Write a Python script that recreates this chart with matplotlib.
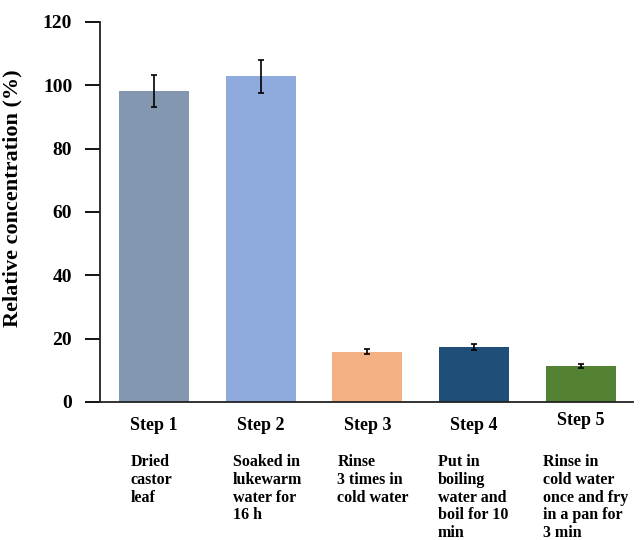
import numpy as np
import matplotlib.pyplot as plt
import matplotlib.transforms as mtransforms

plt.rcParams['font.family'] = ['Liberation Serif', 'DejaVu Serif']
plt.rcParams['font.weight'] = 'bold'

steps = ["Step 1", "Step 2", "Step 3", "Step 4", "Step 5"]
desc = ["Dried\ncastor\nleaf",
        "Soaked in\nlukewarm\nwater for\n16 h",
        "Rinse\n3 times in\ncold water",
        "Put in\nboiling\nwater and\nboil for 10\nmin",
        "Rinse in\ncold water\nonce and fry\nin a pan for\n3 min"]
values = [98.2, 102.9, 15.8, 17.4, 11.4]
errors = [5.0, 5.2, 0.8, 0.9, 0.6]
colors = ["#8497B0", "#8FAADC", "#F4B183", "#1F4E79", "#548235"]

# layout of the text under the bars
desc_dx = [-0.215, -0.26, -0.28, -0.34, -0.355]
step_y = [-0.063, -0.063, -0.063, -0.063, -0.05]

fig = plt.figure(figsize=(6.41, 5.40), dpi=100)
ax = fig.add_axes([0.156, 0.2556, 0.8315, 0.7037])

x = np.arange(len(steps))
ax.bar(x, values, width=0.655, color=colors, zorder=2)
ax.errorbar(x, values, yerr=errors, fmt='none', ecolor='black',
            elinewidth=1.2, capsize=2.5, capthick=1.2, zorder=3)

ax.set_xlim(-0.505, 4.49)
ax.set_ylim(0, 120)
ax.set_yticks([0, 20, 40, 60, 80, 100, 120])
ax.set_xticks([])
ax.tick_params(axis='y', length=11, width=1.3, pad=9, labelsize=14)
for lab in ax.get_yticklabels():
    lab.set_fontweight('bold')
ax.set_ylabel("Relative concentration (%)", fontsize=16, fontweight='bold')
ax.yaxis.set_label_coords(-0.146, 0.537)

for s in ['top', 'right']:
    ax.spines[s].set_visible(False)
for s in ['left', 'bottom']:
    ax.spines[s].set_linewidth(1.3)
    ax.spines[s].set_color('#222222')

trans = mtransforms.blended_transform_factory(ax.transData, ax.transAxes)
for i in range(len(steps)):
    ax.text(x[i], step_y[i], steps[i], transform=trans, ha='center', va='center',
            fontsize=13, fontweight='bold')
    ax.text(x[i] + desc_dx[i], -0.137, desc[i], transform=trans, ha='left', va='top',
            fontsize=11.5, fontweight='bold', linespacing=1.15)

fig.savefig("out.png", dpi=100)
